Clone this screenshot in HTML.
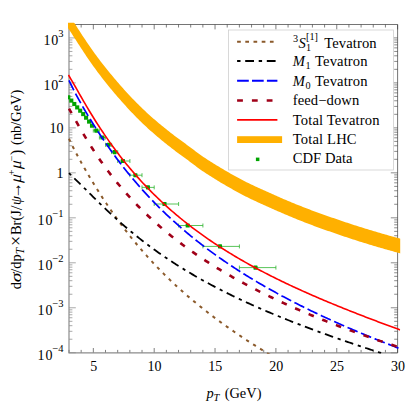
<!DOCTYPE html>
<html><head><meta charset="utf-8"><title>plot</title><style>html,body{margin:0;padding:0;background:#fff}body{width:409px;height:409px;overflow:hidden}</style></head><body>
<svg width="409" height="409" viewBox="0 0 409 409" style="display:block;font-family:'Liberation Serif',serif">
<rect width="409" height="409" fill="#fff"/>
<defs><clipPath id="c"><rect x="68.0" y="22.7" width="332.4" height="331.0"/></clipPath></defs>
<path d="M69.0,352.76 h6.8 M69.0,339.22 h3.4 M69.0,331.30 h3.4 M69.0,325.68 h3.4 M69.0,321.32 h3.4 M69.0,317.76 h3.4 M69.0,314.75 h3.4 M69.0,312.14 h3.4 M69.0,309.84 h3.4 M69.0,307.78 h6.8 M69.0,294.24 h3.4 M69.0,286.32 h3.4 M69.0,280.70 h3.4 M69.0,276.34 h3.4 M69.0,272.78 h3.4 M69.0,269.77 h3.4 M69.0,267.16 h3.4 M69.0,264.86 h3.4 M69.0,262.80 h6.8 M69.0,249.26 h3.4 M69.0,241.34 h3.4 M69.0,235.72 h3.4 M69.0,231.36 h3.4 M69.0,227.80 h3.4 M69.0,224.79 h3.4 M69.0,222.18 h3.4 M69.0,219.88 h3.4 M69.0,217.82 h6.8 M69.0,204.28 h3.4 M69.0,196.36 h3.4 M69.0,190.74 h3.4 M69.0,186.38 h3.4 M69.0,182.82 h3.4 M69.0,179.81 h3.4 M69.0,177.20 h3.4 M69.0,174.90 h3.4 M69.0,172.84 h6.8 M69.0,159.30 h3.4 M69.0,151.38 h3.4 M69.0,145.76 h3.4 M69.0,141.40 h3.4 M69.0,137.84 h3.4 M69.0,134.83 h3.4 M69.0,132.22 h3.4 M69.0,129.92 h3.4 M69.0,127.86 h6.8 M69.0,114.32 h3.4 M69.0,106.40 h3.4 M69.0,100.78 h3.4 M69.0,96.42 h3.4 M69.0,92.86 h3.4 M69.0,89.85 h3.4 M69.0,87.24 h3.4 M69.0,84.94 h3.4 M69.0,82.88 h6.8 M69.0,69.34 h3.4 M69.0,61.42 h3.4 M69.0,55.80 h3.4 M69.0,51.44 h3.4 M69.0,47.88 h3.4 M69.0,44.87 h3.4 M69.0,42.26 h3.4 M69.0,39.96 h3.4 M69.0,37.90 h6.8" stroke="#999" stroke-width="0.85" fill="none"/>
<path d="M397.6,352.76 h-6.8 M397.6,339.22 h-3.4 M397.6,331.30 h-3.4 M397.6,325.68 h-3.4 M397.6,321.32 h-3.4 M397.6,317.76 h-3.4 M397.6,314.75 h-3.4 M397.6,312.14 h-3.4 M397.6,309.84 h-3.4 M397.6,307.78 h-6.8 M397.6,294.24 h-3.4 M397.6,286.32 h-3.4 M397.6,280.70 h-3.4 M397.6,276.34 h-3.4 M397.6,272.78 h-3.4 M397.6,269.77 h-3.4 M397.6,267.16 h-3.4 M397.6,264.86 h-3.4 M397.6,262.80 h-6.8 M397.6,249.26 h-3.4 M397.6,241.34 h-3.4 M397.6,235.72 h-3.4 M397.6,231.36 h-3.4 M397.6,227.80 h-3.4 M397.6,224.79 h-3.4 M397.6,222.18 h-3.4 M397.6,219.88 h-3.4 M397.6,217.82 h-6.8 M397.6,204.28 h-3.4 M397.6,196.36 h-3.4 M397.6,190.74 h-3.4 M397.6,186.38 h-3.4 M397.6,182.82 h-3.4 M397.6,179.81 h-3.4 M397.6,177.20 h-3.4 M397.6,174.90 h-3.4 M397.6,172.84 h-6.8 M397.6,159.30 h-3.4 M397.6,151.38 h-3.4 M397.6,145.76 h-3.4 M397.6,141.40 h-3.4 M397.6,137.84 h-3.4 M397.6,134.83 h-3.4 M397.6,132.22 h-3.4 M397.6,129.92 h-3.4 M397.6,127.86 h-6.8 M397.6,114.32 h-3.4 M397.6,106.40 h-3.4 M397.6,100.78 h-3.4 M397.6,96.42 h-3.4 M397.6,92.86 h-3.4 M397.6,89.85 h-3.4 M397.6,87.24 h-3.4 M397.6,84.94 h-3.4 M397.6,82.88 h-6.8 M397.6,69.34 h-3.4 M397.6,61.42 h-3.4 M397.6,55.80 h-3.4 M397.6,51.44 h-3.4 M397.6,47.88 h-3.4 M397.6,44.87 h-3.4 M397.6,42.26 h-3.4 M397.6,39.96 h-3.4 M397.6,37.90 h-6.8" stroke="#777" stroke-width="0.85" fill="none"/>
<path d="M69.00,352.9 v-3.0 M81.17,352.9 v-3.0 M93.34,352.9 v-4.9 M105.51,352.9 v-3.0 M117.68,352.9 v-3.0 M129.85,352.9 v-3.0 M142.02,352.9 v-3.0 M154.19,352.9 v-4.9 M166.36,352.9 v-3.0 M178.53,352.9 v-3.0 M190.70,352.9 v-3.0 M202.87,352.9 v-3.0 M215.04,352.9 v-4.9 M227.21,352.9 v-3.0 M239.39,352.9 v-3.0 M251.56,352.9 v-3.0 M263.73,352.9 v-3.0 M275.90,352.9 v-4.9 M288.07,352.9 v-3.0 M300.24,352.9 v-3.0 M312.41,352.9 v-3.0 M324.58,352.9 v-3.0 M336.75,352.9 v-4.9 M348.92,352.9 v-3.0 M361.09,352.9 v-3.0 M373.26,352.9 v-3.0 M385.43,352.9 v-3.0 M397.60,352.9 v-4.9 M69.00,24.5 v3.0 M81.17,24.5 v3.0 M93.34,24.5 v4.9 M105.51,24.5 v3.0 M117.68,24.5 v3.0 M129.85,24.5 v3.0 M142.02,24.5 v3.0 M154.19,24.5 v4.9 M166.36,24.5 v3.0 M178.53,24.5 v3.0 M190.70,24.5 v3.0 M202.87,24.5 v3.0 M215.04,24.5 v4.9 M227.21,24.5 v3.0 M239.39,24.5 v3.0 M251.56,24.5 v3.0 M263.73,24.5 v3.0 M275.90,24.5 v4.9 M288.07,24.5 v3.0 M300.24,24.5 v3.0 M312.41,24.5 v3.0 M324.58,24.5 v3.0 M336.75,24.5 v4.9 M348.92,24.5 v3.0 M361.09,24.5 v3.0 M373.26,24.5 v3.0 M385.43,24.5 v3.0 M397.60,24.5 v4.9" stroke="#3a3a3a" stroke-width="0.65" fill="none"/>
<path d="M69.0,24.5 V352.9 H397.6" stroke="#8c8c8c" stroke-width="1.2" fill="none"/>
<path d="M69.0,24.5 H397.6 V352.9" stroke="#3a3a3a" stroke-width="0.7" fill="none"/>
<g clip-path="url(#c)" fill="none">
<polygon points="67.00,11.96 68.40,13.95 69.79,16.01 71.19,18.12 72.58,20.27 73.98,22.43 75.37,24.61 76.77,26.79 78.16,28.96 79.56,31.12 80.95,33.27 82.35,35.41 83.74,37.52 85.14,39.62 86.54,41.69 87.93,43.74 89.33,45.77 90.72,47.78 92.12,49.76 93.51,51.72 94.91,53.65 96.30,55.56 97.70,57.45 99.09,59.32 100.49,61.16 101.88,62.98 103.28,64.78 104.68,66.55 106.07,68.31 107.47,70.04 108.86,71.75 110.26,73.44 111.65,75.12 113.05,76.79 114.44,78.44 115.84,80.08 117.23,81.70 118.63,83.32 120.03,84.91 121.42,86.50 122.82,88.07 124.21,89.63 125.61,91.17 127.00,92.70 128.40,94.21 129.79,95.71 131.19,97.19 132.58,98.66 133.98,100.11 135.37,101.55 136.77,102.97 138.17,104.37 139.56,105.75 140.96,107.12 142.35,108.47 143.75,109.81 145.14,111.12 146.54,112.42 147.93,113.70 149.33,114.96 150.72,116.20 152.12,117.42 153.51,118.64 154.91,119.85 156.31,121.04 157.70,122.22 159.10,123.40 160.49,124.56 161.89,125.71 163.28,126.85 164.68,127.98 166.07,129.11 167.47,130.22 168.86,131.32 170.26,132.42 171.65,133.50 173.05,134.58 174.45,135.64 175.84,136.70 177.24,137.75 178.63,138.79 180.03,139.82 181.42,140.85 182.82,141.86 184.21,142.87 185.61,143.87 187.00,144.89 188.40,145.92 189.79,146.96 191.19,148.00 192.59,149.05 193.98,150.10 195.38,151.15 196.77,152.19 198.17,153.22 199.56,154.24 200.96,155.23 202.35,156.21 203.75,157.16 205.14,158.08 206.54,158.99 207.94,159.89 209.33,160.78 210.73,161.67 212.12,162.55 213.52,163.42 214.91,164.28 216.31,165.14 217.70,166.00 219.10,166.84 220.49,167.68 221.89,168.51 223.28,169.34 224.68,170.16 226.08,170.97 227.47,171.78 228.87,172.58 230.26,173.38 231.66,174.17 233.05,174.95 234.45,175.73 235.84,176.50 237.24,177.26 238.63,178.02 240.03,178.78 241.42,179.52 242.82,180.26 244.22,180.98 245.61,181.69 247.01,182.38 248.40,183.07 249.80,183.75 251.19,184.43 252.59,185.09 253.98,185.75 255.38,186.40 256.77,187.05 258.17,187.69 259.56,188.33 260.96,188.96 262.36,189.59 263.75,190.22 265.15,190.85 266.54,191.47 267.94,192.10 269.33,192.73 270.73,193.36 272.12,193.98 273.52,194.61 274.91,195.23 276.31,195.84 277.71,196.46 279.10,197.07 280.50,197.67 281.89,198.28 283.29,198.88 284.68,199.47 286.08,200.07 287.47,200.66 288.87,201.24 290.26,201.83 291.66,202.41 293.05,202.98 294.45,203.56 295.85,204.13 297.24,204.69 298.64,205.25 300.03,205.81 301.43,206.37 302.82,206.92 304.22,207.46 305.61,208.01 307.01,208.55 308.40,209.08 309.80,209.62 311.19,210.14 312.59,210.67 313.99,211.19 315.38,211.70 316.78,212.21 318.17,212.72 319.57,213.22 320.96,213.73 322.36,214.22 323.75,214.72 325.15,215.21 326.54,215.70 327.94,216.19 329.33,216.67 330.73,217.16 332.13,217.64 333.52,218.12 334.92,218.60 336.31,219.08 337.71,219.56 339.10,220.04 340.50,220.51 341.89,220.99 343.29,221.46 344.68,221.93 346.08,222.40 347.47,222.86 348.87,223.33 350.27,223.78 351.66,224.24 353.06,224.70 354.45,225.15 355.85,225.60 357.24,226.04 358.64,226.49 360.03,226.93 361.43,227.37 362.82,227.80 364.22,228.24 365.62,228.67 367.01,229.10 368.41,229.52 369.80,229.95 371.20,230.37 372.59,230.79 373.99,231.20 375.38,231.62 376.78,232.03 378.17,232.44 379.57,232.85 380.96,233.25 382.36,233.66 383.76,234.06 385.15,234.46 386.55,234.85 387.94,235.25 389.34,235.64 390.73,236.03 392.13,236.42 393.52,236.80 394.92,237.18 396.31,237.56 397.71,237.94 399.10,238.32 400.50,238.69 400.50,253.39 399.10,253.02 397.71,252.64 396.31,252.26 394.92,251.88 393.52,251.50 392.13,251.12 390.73,250.73 389.34,250.34 387.94,249.95 386.55,249.55 385.15,249.16 383.76,248.76 382.36,248.36 380.96,247.95 379.57,247.55 378.17,247.14 376.78,246.73 375.38,246.32 373.99,245.90 372.59,245.49 371.20,245.07 369.80,244.65 368.41,244.22 367.01,243.80 365.62,243.37 364.22,242.94 362.82,242.50 361.43,242.07 360.03,241.63 358.64,241.19 357.24,240.74 355.85,240.30 354.45,239.85 353.06,239.40 351.66,238.94 350.27,238.48 348.87,238.03 347.47,237.56 346.08,237.10 344.68,236.63 343.29,236.16 341.89,235.69 340.50,235.21 339.10,234.74 337.71,234.26 336.31,233.78 334.92,233.30 333.52,232.82 332.13,232.34 330.73,231.86 329.33,231.37 327.94,230.89 326.54,230.40 325.15,229.91 323.75,229.42 322.36,228.92 320.96,228.43 319.57,227.92 318.17,227.42 316.78,226.91 315.38,226.40 313.99,225.89 312.59,225.37 311.19,224.84 309.80,224.32 308.40,223.78 307.01,223.25 305.61,222.71 304.22,222.16 302.82,221.62 301.43,221.07 300.03,220.51 298.64,219.95 297.24,219.39 295.85,218.83 294.45,218.26 293.05,217.68 291.66,217.11 290.26,216.53 288.87,215.94 287.47,215.36 286.08,214.77 284.68,214.17 283.29,213.58 281.89,212.98 280.50,212.37 279.10,211.77 277.71,211.16 276.31,210.54 274.91,209.93 273.52,209.31 272.12,208.68 270.73,208.06 269.33,207.43 267.94,206.80 266.54,206.17 265.15,205.55 263.75,204.92 262.36,204.29 260.96,203.66 259.56,203.03 258.17,202.39 256.77,201.75 255.38,201.10 253.98,200.45 252.59,199.79 251.19,199.13 249.80,198.45 248.40,197.77 247.01,197.08 245.61,196.39 244.22,195.68 242.82,194.96 241.42,194.22 240.03,193.48 238.63,192.72 237.24,191.96 235.84,191.20 234.45,190.43 233.05,189.65 231.66,188.87 230.26,188.08 228.87,187.28 227.47,186.48 226.08,185.67 224.68,184.86 223.28,184.04 221.89,183.21 220.49,182.38 219.10,181.54 217.70,180.70 216.31,179.84 214.91,178.98 213.52,178.12 212.12,177.25 210.73,176.37 209.33,175.48 207.94,174.59 206.54,173.69 205.14,172.78 203.75,171.86 202.35,170.91 200.96,169.93 199.56,168.94 198.17,167.92 196.77,166.89 195.38,165.85 193.98,164.80 192.59,163.75 191.19,162.70 189.79,161.66 188.40,160.62 187.00,159.59 185.61,158.57 184.21,157.57 182.82,156.56 181.42,155.55 180.03,154.52 178.63,153.49 177.24,152.45 175.84,151.40 174.45,150.34 173.05,149.28 171.65,148.20 170.26,147.12 168.86,146.02 167.47,144.92 166.07,143.81 164.68,142.68 163.28,141.55 161.89,140.41 160.49,139.26 159.10,138.10 157.70,136.92 156.31,135.74 154.91,134.55 153.51,133.34 152.12,132.12 150.72,130.90 149.33,129.66 147.93,128.40 146.54,127.12 145.14,125.82 143.75,124.51 142.35,123.17 140.96,121.82 139.56,120.45 138.17,119.07 136.77,117.67 135.37,116.25 133.98,114.81 132.58,113.36 131.19,111.89 129.79,110.41 128.40,108.91 127.00,107.40 125.61,105.87 124.21,104.33 122.82,102.77 121.42,101.20 120.03,99.61 118.63,98.02 117.23,96.40 115.84,94.78 114.44,93.14 113.05,91.49 111.65,89.82 110.26,88.14 108.86,86.45 107.47,84.74 106.07,83.01 104.68,81.25 103.28,79.48 101.88,77.68 100.49,75.86 99.09,74.02 97.70,72.15 96.30,70.26 94.91,68.35 93.51,66.42 92.12,64.46 90.72,62.48 89.33,60.47 87.93,58.44 86.54,56.39 85.14,54.32 83.74,52.22 82.35,50.11 80.95,47.97 79.56,45.82 78.16,43.66 76.77,41.49 75.37,39.31 73.98,37.13 72.58,34.97 71.19,32.82 69.79,30.71 68.40,28.65 67.00,26.66" fill="#ffb000" stroke="none"/>
<rect x="66.25" y="95.25" width="4.1" height="4.1" fill="#00a400"/>
<rect x="69.25" y="98.55" width="4.1" height="4.1" fill="#00a400"/>
<rect x="72.25" y="101.95" width="4.1" height="4.1" fill="#00a400"/>
<rect x="75.15" y="105.35" width="4.1" height="4.1" fill="#00a400"/>
<rect x="78.15" y="108.65" width="4.1" height="4.1" fill="#00a400"/>
<rect x="81.15" y="112.05" width="4.1" height="4.1" fill="#00a400"/>
<rect x="84.05" y="115.65" width="4.1" height="4.1" fill="#00a400"/>
<rect x="87.05" y="119.55" width="4.1" height="4.1" fill="#00a400"/>
<rect x="89.95" y="123.65" width="4.1" height="4.1" fill="#00a400"/>
<path d="M93.3,130.6 H99.3 M93.3,128.6 v4 M99.3,128.6 v4" stroke="#2fb52f" stroke-width="0.8"/>
<rect x="94.25" y="128.55" width="4.1" height="4.1" rx="0.6" fill="#00a400"/>
<path d="M99.4,137.5 H105.4 M99.4,135.5 v4 M105.4,135.5 v4" stroke="#2fb52f" stroke-width="0.8"/>
<rect x="100.35" y="135.45" width="4.1" height="4.1" rx="0.6" fill="#00a400"/>
<path d="M105.5,144.8 H111.6 M105.5,142.8 v4 M111.6,142.8 v4" stroke="#2fb52f" stroke-width="0.8"/>
<rect x="106.55" y="142.75" width="4.1" height="4.1" rx="0.6" fill="#00a400"/>
<path d="M111.6,152.1 H117.7 M111.6,150.1 v4 M117.7,150.1 v4" stroke="#2fb52f" stroke-width="0.8"/>
<rect x="112.55" y="150.05" width="4.1" height="4.1" rx="0.6" fill="#00a400"/>
<path d="M117.7,161 H129.9 M117.7,159 v4 M129.9,159 v4" stroke="#2fb52f" stroke-width="0.8"/>
<rect x="120.85" y="158.95" width="4.1" height="4.1" rx="0.6" fill="#00a400"/>
<path d="M129.9,175.2 H142.0 M129.9,173.2 v4 M142.0,173.2 v4" stroke="#2fb52f" stroke-width="0.8"/>
<rect x="133.35" y="173.15" width="4.1" height="4.1" rx="0.6" fill="#00a400"/>
<path d="M142,187.4 H154.2 M142,185.4 v4 M154.2,185.4 v4" stroke="#2fb52f" stroke-width="0.8"/>
<rect x="145.85" y="185.35" width="4.1" height="4.1" rx="0.6" fill="#00a400"/>
<path d="M154.2,204 H178.6 M154.2,202 v4 M178.6,202 v4" stroke="#2fb52f" stroke-width="0.8"/>
<rect x="162.45" y="201.95" width="4.1" height="4.1" rx="0.6" fill="#00a400"/>
<path d="M178.6,225.5 H202.9 M178.6,223.5 v4 M202.9,223.5 v4" stroke="#2fb52f" stroke-width="0.8"/>
<rect x="185.65" y="223.45" width="4.1" height="4.1" rx="0.6" fill="#00a400"/>
<path d="M202.9,246.4 H239.4 M202.9,244.4 v4 M239.4,244.4 v4" stroke="#2fb52f" stroke-width="0.8"/>
<rect x="217.95" y="244.35" width="4.1" height="4.1" rx="0.6" fill="#00a400"/>
<path d="M239.4,267.6 H275.9 M239.4,265.6 v4 M275.9,265.6 v4" stroke="#2fb52f" stroke-width="0.8"/>
<rect x="253.45" y="265.55" width="4.1" height="4.1" rx="0.6" fill="#00a400"/>
<path d="M69.00,138.73 L69.84,140.55 L70.68,142.32 L71.52,144.05 L72.36,145.76 L73.21,147.43 L74.05,149.09 L74.89,150.71 L75.73,152.32 L76.57,153.91 L77.41,155.49 L78.25,157.05 L79.09,158.59 L79.93,160.12 L80.77,161.64 L81.62,163.15 L82.46,164.65 L83.30,166.13 L84.14,167.61 L84.98,169.08 L85.82,170.53 L86.66,171.98 L87.50,173.42 L88.34,174.85 L89.18,176.28 L90.03,177.69 L90.87,179.10 L91.71,180.49 L92.55,181.88 L93.39,183.26 L94.23,184.64 L95.07,186.00 L95.91,187.36 L96.75,188.71 L97.59,190.05 L98.44,191.38 L99.28,192.71 L100.12,194.02 L100.96,195.33 L101.80,196.64 L102.64,197.93 L103.48,199.22 L104.32,200.50 L105.16,201.77 L106.00,203.03 L106.85,204.29 L107.69,205.54 L108.53,206.78 L109.37,208.01 L110.21,209.24 L111.05,210.46 L111.89,211.67 L112.73,212.87 L113.57,214.07 L114.41,215.26 L115.26,216.44 L116.10,217.61 L116.94,218.78 L117.78,219.94 L118.62,221.09 L119.46,222.24 L120.30,223.38 L121.14,224.51 L121.98,225.63 L122.82,226.75 L123.67,227.86 L124.51,228.97 L125.35,230.06 L126.19,231.16 L127.03,232.24 L127.87,233.32 L128.71,234.39 L129.55,235.45 L130.39,236.51 L131.23,237.56 L132.08,238.61 L132.92,239.65 L133.76,240.68 L134.60,241.71 L135.44,242.73 L136.28,243.74 L137.12,244.75 L137.96,245.75 L138.80,246.75 L139.64,247.74 L140.49,248.72 L141.33,249.70 L142.17,250.67 L143.01,251.64 L143.85,252.60 L144.69,253.56 L145.53,254.51 L146.37,255.45 L147.21,256.39 L148.05,257.32 L148.90,258.25 L149.74,259.18 L150.58,260.09 L151.42,261.01 L152.26,261.91 L153.10,262.82 L153.94,263.71 L154.78,264.61 L155.62,265.49 L156.46,266.37 L157.31,267.25 L158.15,268.12 L158.99,268.99 L159.83,269.86 L160.67,270.71 L161.51,271.57 L162.35,272.42 L163.19,273.26 L164.03,274.10 L164.87,274.94 L165.72,275.77 L166.56,276.59 L167.40,277.41 L168.24,278.23 L169.08,279.05 L169.92,279.85 L170.76,280.66 L171.60,281.46 L172.44,282.26 L173.28,283.05 L174.13,283.84 L174.97,284.62 L175.81,285.40 L176.65,286.18 L177.49,286.95 L178.33,287.72 L179.17,288.49 L180.01,289.25 L180.85,290.00 L181.69,290.76 L182.54,291.51 L183.38,292.25 L184.22,293.00 L185.06,293.74 L185.90,294.47 L186.74,295.20 L187.58,295.93 L188.42,296.66 L189.26,297.38 L190.10,298.10 L190.95,298.81 L191.79,299.53 L192.63,300.23 L193.47,300.94 L194.31,301.64 L195.15,302.34 L195.99,303.04 L196.83,303.73 L197.67,304.42 L198.51,305.11 L199.36,305.79 L200.20,306.47 L201.04,307.15 L201.88,307.82 L202.72,308.49 L203.56,309.16 L204.40,309.83 L205.24,310.49 L206.08,311.15 L206.92,311.81 L207.77,312.46 L208.61,313.11 L209.45,313.76 L210.29,314.41 L211.13,315.05 L211.97,315.69 L212.81,316.33 L213.65,316.97 L214.49,317.60 L215.33,318.23 L216.18,318.86 L217.02,319.49 L217.86,320.11 L218.70,320.73 L219.54,321.35 L220.38,321.97 L221.22,322.58 L222.06,323.19 L222.90,323.80 L223.74,324.41 L224.59,325.01 L225.43,325.62 L226.27,326.22 L227.11,326.81 L227.95,327.41 L228.79,328.00 L229.63,328.60 L230.47,329.18 L231.31,329.77 L232.15,330.36 L233.00,330.94 L233.84,331.52 L234.68,332.10 L235.52,332.68 L236.36,333.25 L237.20,333.82 L238.04,334.40 L238.88,334.96 L239.72,335.53 L240.56,336.10 L241.41,336.66 L242.25,337.22 L243.09,337.78 L243.93,338.34 L244.77,338.89 L245.61,339.45 L246.45,340.00 L247.29,340.55 L248.13,341.10 L248.97,341.65 L249.82,342.19 L250.66,342.74 L251.50,343.28 L252.34,343.82 L253.18,344.36 L254.02,344.89 L254.86,345.43 L255.70,345.96 L256.54,346.50 L257.38,347.03 L258.23,347.56 L259.07,348.08 L259.91,348.61 L260.75,349.13 L261.59,349.66 L262.43,350.18 L263.27,350.70 L264.11,351.22 L264.95,351.73 L265.79,352.25 L266.64,352.76 L267.48,353.28 L268.32,353.79 L269.16,354.30 L270.00,354.81" stroke="#8b5a2b" stroke-width="2" stroke-dasharray="3.2 5.03"/>
<path d="M69.00,173.19 L70.32,174.47 L71.64,175.74 L72.97,177.01 L74.29,178.29 L75.61,179.57 L76.93,180.86 L78.26,182.15 L79.58,183.44 L80.90,184.74 L82.22,186.05 L83.54,187.36 L84.87,188.67 L86.19,189.98 L87.51,191.29 L88.83,192.61 L90.15,193.92 L91.48,195.23 L92.80,196.53 L94.12,197.84 L95.44,199.14 L96.77,200.44 L98.09,201.73 L99.41,203.02 L100.73,204.30 L102.05,205.57 L103.38,206.84 L104.70,208.11 L106.02,209.36 L107.34,210.61 L108.67,211.85 L109.99,213.09 L111.31,214.31 L112.63,215.53 L113.95,216.74 L115.28,217.94 L116.60,219.13 L117.92,220.32 L119.24,221.49 L120.56,222.66 L121.89,223.82 L123.21,224.97 L124.53,226.11 L125.85,227.25 L127.18,228.37 L128.50,229.49 L129.82,230.60 L131.14,231.70 L132.46,232.79 L133.79,233.87 L135.11,234.94 L136.43,236.01 L137.75,237.07 L139.08,238.11 L140.40,239.16 L141.72,240.19 L143.04,241.21 L144.36,242.23 L145.69,243.24 L147.01,244.24 L148.33,245.23 L149.65,246.22 L150.97,247.19 L152.30,248.16 L153.62,249.13 L154.94,250.08 L156.26,251.03 L157.59,251.97 L158.91,252.90 L160.23,253.83 L161.55,254.75 L162.87,255.66 L164.20,256.57 L165.52,257.46 L166.84,258.36 L168.16,259.24 L169.49,260.12 L170.81,260.99 L172.13,261.86 L173.45,262.72 L174.77,263.57 L176.10,264.42 L177.42,265.26 L178.74,266.09 L180.06,266.92 L181.38,267.75 L182.71,268.56 L184.03,269.37 L185.35,270.18 L186.67,270.98 L188.00,271.77 L189.32,272.56 L190.64,273.35 L191.96,274.13 L193.28,274.90 L194.61,275.67 L195.93,276.43 L197.25,277.19 L198.57,277.94 L199.90,278.69 L201.22,279.43 L202.54,280.17 L203.86,280.90 L205.18,281.63 L206.51,282.36 L207.83,283.08 L209.15,283.79 L210.47,284.50 L211.79,285.21 L213.12,285.91 L214.44,286.61 L215.76,287.30 L217.08,287.99 L218.41,288.68 L219.73,289.36 L221.05,290.04 L222.37,290.71 L223.69,291.38 L225.02,292.05 L226.34,292.71 L227.66,293.36 L228.98,294.02 L230.31,294.67 L231.63,295.32 L232.95,295.96 L234.27,296.60 L235.59,297.24 L236.92,297.87 L238.24,298.50 L239.56,299.12 L240.88,299.75 L242.21,300.37 L243.53,300.98 L244.85,301.59 L246.17,302.20 L247.49,302.81 L248.82,303.41 L250.14,304.01 L251.46,304.61 L252.78,305.21 L254.10,305.80 L255.43,306.39 L256.75,306.97 L258.07,307.55 L259.39,308.13 L260.72,308.71 L262.04,309.29 L263.36,309.86 L264.68,310.43 L266.00,310.99 L267.33,311.56 L268.65,312.12 L269.97,312.68 L271.29,313.23 L272.62,313.79 L273.94,314.34 L275.26,314.89 L276.58,315.44 L277.90,315.98 L279.23,316.52 L280.55,317.06 L281.87,317.60 L283.19,318.13 L284.51,318.67 L285.84,319.20 L287.16,319.73 L288.48,320.25 L289.80,320.78 L291.13,321.30 L292.45,321.82 L293.77,322.34 L295.09,322.85 L296.41,323.37 L297.74,323.88 L299.06,324.39 L300.38,324.90 L301.70,325.40 L303.03,325.91 L304.35,326.41 L305.67,326.91 L306.99,327.41 L308.31,327.91 L309.64,328.40 L310.96,328.89 L312.28,329.39 L313.60,329.87 L314.92,330.36 L316.25,330.85 L317.57,331.33 L318.89,331.82 L320.21,332.30 L321.54,332.78 L322.86,333.26 L324.18,333.73 L325.50,334.21 L326.82,334.68 L328.15,335.16 L329.47,335.63 L330.79,336.10 L332.11,336.56 L333.44,337.03 L334.76,337.49 L336.08,337.96 L337.40,338.42 L338.72,338.88 L340.05,339.34 L341.37,339.80 L342.69,340.25 L344.01,340.71 L345.33,341.16 L346.66,341.62 L347.98,342.07 L349.30,342.52 L350.62,342.97 L351.95,343.41 L353.27,343.86 L354.59,344.31 L355.91,344.75 L357.23,345.19 L358.56,345.63 L359.88,346.08 L361.20,346.51 L362.52,346.95 L363.85,347.39 L365.17,347.83 L366.49,348.26 L367.81,348.69 L369.13,349.13 L370.46,349.56 L371.78,349.99 L373.10,350.42 L374.42,350.85 L375.74,351.28 L377.07,351.70 L378.39,352.13 L379.71,352.55 L381.03,352.98 L382.36,353.40 L383.68,353.82 L385.00,354.24" stroke="#000" stroke-width="1.8" stroke-dasharray="3.2 4.6 8.7 4.8" stroke-dashoffset="0.4"/>
<path d="M69.00,80.41 L70.38,83.35 L71.77,86.19 L73.15,88.96 L74.54,91.65 L75.92,94.29 L77.31,96.88 L78.69,99.42 L80.08,101.92 L81.46,104.39 L82.85,106.82 L84.23,109.21 L85.62,111.58 L87.00,113.92 L88.39,116.24 L89.77,118.52 L91.16,120.78 L92.54,123.02 L93.93,125.23 L95.31,127.42 L96.70,129.58 L98.08,131.72 L99.47,133.84 L100.85,135.94 L102.24,138.01 L103.62,140.07 L105.01,142.10 L106.39,144.11 L107.78,146.10 L109.16,148.07 L110.55,150.02 L111.93,151.95 L113.32,153.86 L114.70,155.75 L116.09,157.62 L117.47,159.47 L118.86,161.30 L120.24,163.12 L121.63,164.91 L123.01,166.69 L124.40,168.45 L125.78,170.19 L127.17,171.92 L128.55,173.62 L129.94,175.31 L131.32,176.99 L132.71,178.65 L134.09,180.29 L135.48,181.91 L136.86,183.52 L138.25,185.12 L139.63,186.69 L141.02,188.26 L142.40,189.81 L143.79,191.34 L145.17,192.86 L146.56,194.36 L147.94,195.85 L149.33,197.33 L150.71,198.79 L152.10,200.24 L153.48,201.68 L154.87,203.10 L156.25,204.51 L157.64,205.91 L159.02,207.29 L160.41,208.67 L161.79,210.03 L163.18,211.37 L164.56,212.71 L165.95,214.03 L167.33,215.35 L168.72,216.65 L170.10,217.94 L171.49,219.22 L172.87,220.49 L174.26,221.74 L175.64,222.99 L177.03,224.23 L178.41,225.45 L179.79,226.67 L181.18,227.87 L182.56,229.07 L183.95,230.26 L185.33,231.43 L186.72,232.60 L188.10,233.76 L189.49,234.91 L190.87,236.05 L192.26,237.18 L193.64,238.30 L195.03,239.41 L196.41,240.52 L197.80,241.61 L199.18,242.70 L200.57,243.78 L201.95,244.85 L203.34,245.91 L204.72,246.97 L206.11,248.02 L207.49,249.06 L208.88,250.09 L210.26,251.11 L211.65,252.13 L213.03,253.14 L214.42,254.14 L215.80,255.14 L217.19,256.13 L218.57,257.11 L219.96,258.08 L221.34,259.05 L222.73,260.01 L224.11,260.97 L225.50,261.92 L226.88,262.86 L228.27,263.80 L229.65,264.72 L231.04,265.65 L232.42,266.57 L233.81,267.48 L235.19,268.38 L236.58,269.28 L237.96,270.18 L239.35,271.06 L240.73,271.95 L242.12,272.82 L243.50,273.70 L244.89,274.56 L246.27,275.42 L247.66,276.28 L249.04,277.13 L250.43,277.97 L251.81,278.81 L253.20,279.65 L254.58,280.48 L255.97,281.30 L257.35,282.12 L258.74,282.94 L260.12,283.75 L261.51,284.56 L262.89,285.36 L264.28,286.15 L265.66,286.95 L267.05,287.74 L268.43,288.52 L269.82,289.30 L271.20,290.07 L272.59,290.84 L273.97,291.61 L275.36,292.37 L276.74,293.13 L278.13,293.89 L279.51,294.64 L280.90,295.38 L282.28,296.13 L283.67,296.86 L285.05,297.60 L286.44,298.33 L287.82,299.06 L289.21,299.78 L290.59,300.50 L291.97,301.22 L293.36,301.93 L294.74,302.64 L296.13,303.35 L297.51,304.05 L298.90,304.75 L300.28,305.44 L301.67,306.13 L303.05,306.82 L304.44,307.51 L305.82,308.19 L307.21,308.87 L308.59,309.55 L309.98,310.22 L311.36,310.89 L312.75,311.56 L314.13,312.22 L315.52,312.88 L316.90,313.54 L318.29,314.20 L319.67,314.85 L321.06,315.50 L322.44,316.15 L323.83,316.79 L325.21,317.43 L326.60,318.07 L327.98,318.71 L329.37,319.34 L330.75,319.97 L332.14,320.60 L333.52,321.22 L334.91,321.85 L336.29,322.47 L337.68,323.08 L339.06,323.70 L340.45,324.31 L341.83,324.92 L343.22,325.53 L344.60,326.14 L345.99,326.74 L347.37,327.34 L348.76,327.94 L350.14,328.54 L351.53,329.13 L352.91,329.72 L354.30,330.31 L355.68,330.90 L357.07,331.49 L358.45,332.07 L359.84,332.65 L361.22,333.23 L362.61,333.81 L363.99,334.38 L365.38,334.96 L366.76,335.53 L368.15,336.10 L369.53,336.66 L370.92,337.23 L372.30,337.79 L373.69,338.35 L375.07,338.91 L376.46,339.47 L377.84,340.03 L379.23,340.58 L380.61,341.13 L382.00,341.68 L383.38,342.23 L384.77,342.78 L386.15,343.33 L387.54,343.87 L388.92,344.41 L390.31,344.95 L391.69,345.49 L393.08,346.03 L394.46,346.56 L395.85,347.10 L397.23,347.63 L398.62,348.16 L400.00,348.69" stroke="#0000ff" stroke-width="1.7" stroke-dasharray="10.96 3.7"/>
<path d="M69.00,108.58 L70.38,111.06 L71.77,113.55 L73.15,116.04 L74.54,118.52 L75.92,120.99 L77.31,123.44 L78.69,125.88 L80.08,128.29 L81.46,130.67 L82.85,133.04 L84.23,135.37 L85.62,137.68 L87.00,139.96 L88.39,142.21 L89.77,144.43 L91.16,146.62 L92.54,148.78 L93.93,150.91 L95.31,153.02 L96.70,155.09 L98.08,157.14 L99.47,159.16 L100.85,161.15 L102.24,163.12 L103.62,165.06 L105.01,166.97 L106.39,168.86 L107.78,170.72 L109.16,172.56 L110.55,174.37 L111.93,176.16 L113.32,177.92 L114.70,179.67 L116.09,181.39 L117.47,183.09 L118.86,184.76 L120.24,186.42 L121.63,188.06 L123.01,189.67 L124.40,191.27 L125.78,192.84 L127.17,194.40 L128.55,195.94 L129.94,197.46 L131.32,198.96 L132.71,200.45 L134.09,201.92 L135.48,203.37 L136.86,204.80 L138.25,206.22 L139.63,207.62 L141.02,209.01 L142.40,210.38 L143.79,211.74 L145.17,213.08 L146.56,214.41 L147.94,215.72 L149.33,217.02 L150.71,218.31 L152.10,219.58 L153.48,220.84 L154.87,222.09 L156.25,223.33 L157.64,224.55 L159.02,225.76 L160.41,226.96 L161.79,228.15 L163.18,229.32 L164.56,230.49 L165.95,231.64 L167.33,232.78 L168.72,233.92 L170.10,235.04 L171.49,236.15 L172.87,237.25 L174.26,238.34 L175.64,239.42 L177.03,240.49 L178.41,241.56 L179.79,242.61 L181.18,243.65 L182.56,244.69 L183.95,245.72 L185.33,246.73 L186.72,247.74 L188.10,248.74 L189.49,249.74 L190.87,250.72 L192.26,251.70 L193.64,252.67 L195.03,253.63 L196.41,254.58 L197.80,255.53 L199.18,256.46 L200.57,257.40 L201.95,258.32 L203.34,259.24 L204.72,260.15 L206.11,261.05 L207.49,261.94 L208.88,262.83 L210.26,263.72 L211.65,264.59 L213.03,265.46 L214.42,266.33 L215.80,267.19 L217.19,268.04 L218.57,268.88 L219.96,269.72 L221.34,270.56 L222.73,271.38 L224.11,272.21 L225.50,273.02 L226.88,273.83 L228.27,274.64 L229.65,275.44 L231.04,276.23 L232.42,277.02 L233.81,277.81 L235.19,278.59 L236.58,279.36 L237.96,280.13 L239.35,280.90 L240.73,281.66 L242.12,282.41 L243.50,283.16 L244.89,283.91 L246.27,284.65 L247.66,285.39 L249.04,286.12 L250.43,286.85 L251.81,287.57 L253.20,288.29 L254.58,289.00 L255.97,289.71 L257.35,290.42 L258.74,291.12 L260.12,291.82 L261.51,292.51 L262.89,293.20 L264.28,293.89 L265.66,294.57 L267.05,295.25 L268.43,295.93 L269.82,296.60 L271.20,297.27 L272.59,297.93 L273.97,298.59 L275.36,299.25 L276.74,299.90 L278.13,300.55 L279.51,301.19 L280.90,301.84 L282.28,302.48 L283.67,303.11 L285.05,303.75 L286.44,304.38 L287.82,305.00 L289.21,305.63 L290.59,306.25 L291.97,306.86 L293.36,307.48 L294.74,308.09 L296.13,308.69 L297.51,309.30 L298.90,309.90 L300.28,310.50 L301.67,311.10 L303.05,311.69 L304.44,312.28 L305.82,312.87 L307.21,313.45 L308.59,314.03 L309.98,314.61 L311.36,315.19 L312.75,315.76 L314.13,316.34 L315.52,316.90 L316.90,317.47 L318.29,318.03 L319.67,318.60 L321.06,319.15 L322.44,319.71 L323.83,320.26 L325.21,320.82 L326.60,321.36 L327.98,321.91 L329.37,322.46 L330.75,323.00 L332.14,323.54 L333.52,324.07 L334.91,324.61 L336.29,325.14 L337.68,325.67 L339.06,326.20 L340.45,326.73 L341.83,327.25 L343.22,327.77 L344.60,328.29 L345.99,328.81 L347.37,329.33 L348.76,329.84 L350.14,330.35 L351.53,330.86 L352.91,331.37 L354.30,331.87 L355.68,332.38 L357.07,332.88 L358.45,333.38 L359.84,333.87 L361.22,334.37 L362.61,334.86 L363.99,335.36 L365.38,335.85 L366.76,336.34 L368.15,336.82 L369.53,337.31 L370.92,337.79 L372.30,338.27 L373.69,338.75 L375.07,339.23 L376.46,339.70 L377.84,340.18 L379.23,340.65 L380.61,341.12 L382.00,341.59 L383.38,342.06 L384.77,342.52 L386.15,342.99 L387.54,343.45 L388.92,343.91 L390.31,344.37 L391.69,344.83 L393.08,345.29 L394.46,345.74 L395.85,346.19 L397.23,346.65 L398.62,347.10 L400.00,347.54" stroke="#a00018" stroke-width="2.6" stroke-dasharray="5.6 9.1" stroke-dashoffset="0.3"/>
<path d="M68.40,75.00 L69.79,77.24 L71.17,79.56 L72.56,81.94 L73.95,84.34 L75.34,86.77 L76.72,89.21 L78.11,91.65 L79.50,94.09 L80.89,96.52 L82.27,98.93 L83.66,101.33 L85.05,103.71 L86.44,106.07 L87.82,108.41 L89.21,110.73 L90.60,113.02 L91.99,115.29 L93.37,117.54 L94.76,119.76 L96.15,121.96 L97.54,124.13 L98.92,126.28 L100.31,128.40 L101.70,130.50 L103.09,132.57 L104.47,134.62 L105.86,136.65 L107.25,138.65 L108.64,140.63 L110.02,142.59 L111.41,144.52 L112.80,146.43 L114.19,148.32 L115.57,150.19 L116.96,152.04 L118.35,153.86 L119.74,155.67 L121.12,157.45 L122.51,159.21 L123.90,160.96 L125.29,162.68 L126.67,164.39 L128.06,166.07 L129.45,167.74 L130.84,169.39 L132.22,171.02 L133.61,172.63 L135.00,174.22 L136.38,175.80 L137.77,177.36 L139.16,178.90 L140.55,180.43 L141.93,181.94 L143.32,183.43 L144.71,184.91 L146.10,186.37 L147.48,187.82 L148.87,189.25 L150.26,190.67 L151.65,192.07 L153.03,193.46 L154.42,194.83 L155.81,196.19 L157.20,197.54 L158.58,198.87 L159.97,200.19 L161.36,201.49 L162.75,202.78 L164.13,204.06 L165.52,205.33 L166.91,206.59 L168.30,207.83 L169.68,209.06 L171.07,210.28 L172.46,211.49 L173.85,212.68 L175.23,213.87 L176.62,215.04 L178.01,216.21 L179.40,217.36 L180.78,218.50 L182.17,219.63 L183.56,220.75 L184.95,221.86 L186.33,222.96 L187.72,224.05 L189.11,225.13 L190.50,226.20 L191.88,227.26 L193.27,228.32 L194.66,229.36 L196.05,230.40 L197.43,231.42 L198.82,232.44 L200.21,233.45 L201.59,234.45 L202.98,235.44 L204.37,236.42 L205.76,237.40 L207.14,238.36 L208.53,239.32 L209.92,240.27 L211.31,241.22 L212.69,242.15 L214.08,243.08 L215.47,244.00 L216.86,244.92 L218.24,245.82 L219.63,246.72 L221.02,247.62 L222.41,248.50 L223.79,249.38 L225.18,250.26 L226.57,251.12 L227.96,251.98 L229.34,252.84 L230.73,253.69 L232.12,254.53 L233.51,255.36 L234.89,256.19 L236.28,257.02 L237.67,257.84 L239.06,258.65 L240.44,259.45 L241.83,260.26 L243.22,261.05 L244.61,261.84 L245.99,262.63 L247.38,263.41 L248.77,264.18 L250.16,264.95 L251.54,265.72 L252.93,266.48 L254.32,267.23 L255.71,267.98 L257.09,268.73 L258.48,269.47 L259.87,270.21 L261.26,270.94 L262.64,271.66 L264.03,272.39 L265.42,273.11 L266.81,273.82 L268.19,274.53 L269.58,275.24 L270.97,275.94 L272.35,276.64 L273.74,277.33 L275.13,278.02 L276.52,278.71 L277.90,279.39 L279.29,280.07 L280.68,280.75 L282.07,281.42 L283.45,282.09 L284.84,282.75 L286.23,283.42 L287.62,284.07 L289.00,284.73 L290.39,285.38 L291.78,286.03 L293.17,286.67 L294.55,287.32 L295.94,287.95 L297.33,288.59 L298.72,289.22 L300.10,289.85 L301.49,290.48 L302.88,291.11 L304.27,291.73 L305.65,292.35 L307.04,292.96 L308.43,293.57 L309.82,294.19 L311.20,294.79 L312.59,295.40 L313.98,296.00 L315.37,296.60 L316.75,297.20 L318.14,297.80 L319.53,298.39 L320.92,298.98 L322.30,299.57 L323.69,300.16 L325.08,300.74 L326.47,301.32 L327.85,301.90 L329.24,302.48 L330.63,303.06 L332.02,303.63 L333.40,304.20 L334.79,304.77 L336.18,305.34 L337.56,305.91 L338.95,306.47 L340.34,307.03 L341.73,307.59 L343.11,308.15 L344.50,308.71 L345.89,309.27 L347.28,309.82 L348.66,310.37 L350.05,310.92 L351.44,311.47 L352.83,312.02 L354.21,312.56 L355.60,313.11 L356.99,313.65 L358.38,314.19 L359.76,314.73 L361.15,315.27 L362.54,315.81 L363.93,316.34 L365.31,316.88 L366.70,317.41 L368.09,317.94 L369.48,318.47 L370.86,319.00 L372.25,319.53 L373.64,320.06 L375.03,320.59 L376.41,321.11 L377.80,321.63 L379.19,322.16 L380.58,322.68 L381.96,323.20 L383.35,323.72 L384.74,324.24 L386.13,324.75 L387.51,325.27 L388.90,325.79 L390.29,326.30 L391.68,326.82 L393.06,327.33 L394.45,327.84 L395.84,328.35 L397.23,328.86 L398.61,329.37 L400.00,329.88" stroke="#ff0000" stroke-width="1.6"/>
</g>
<rect x="228.4" y="30" width="165.2" height="140" fill="#fff" stroke="#cfcfcf" stroke-width="0.8"/>
<path d="M237.1,41.8 H275" stroke="#8b5a2b" stroke-width="1.9" stroke-dasharray="3.7 4.5" fill="none"/>
<path d="M237.1,61.0 H276" stroke="#000" stroke-width="1.9" stroke-dasharray="3.4 4.7 8.8 4.7" fill="none"/>
<path d="M237.1,80.8 H277.4" stroke="#0000ff" stroke-width="1.9" stroke-dasharray="11.7 3.2" fill="none"/>
<path d="M237.1,100.5 H273" stroke="#a00018" stroke-width="2.6" stroke-dasharray="5.8 9.0" fill="none"/>
<path d="M237.1,119.9 H277.4" stroke="#ff0000" stroke-width="1.7" fill="none"/>
<rect x="237.1" y="136.2" width="45.0" height="6.8" fill="#ffb000"/>
<rect x="255.9" y="157.6" width="3.5" height="3.5" fill="#00a400"/>
<g font-size="14.6" fill="#000">
<text x="292.9" y="42.2" font-size="10.2">3</text><text x="298.6" y="47.6" font-style="italic">S</text><text x="306.0" y="51.3" font-size="10.2">1</text><text x="306.0" y="40.2" font-size="10.2">[1]</text>
<text x="324.2" y="47.6" textLength="52.4" lengthAdjust="spacing">Tevatron</text>
<text x="292.8" y="66.1" font-style="italic">M</text><text x="305.6" y="69.3" font-size="10.2">1</text><text x="315.1" y="66.1" textLength="52.4" lengthAdjust="spacing">Tevatron</text>
<text x="292.8" y="85.7" font-style="italic">M</text><text x="305.6" y="88.9" font-size="10.2">0</text><text x="315.1" y="85.7" textLength="52.4" lengthAdjust="spacing">Tevatron</text>
<text x="292.7" y="104.6" textLength="66.6" lengthAdjust="spacing">feed−down</text>
<text x="292.7" y="124.9" textLength="86.8" lengthAdjust="spacing">Total Tevatron</text>
<text x="292.7" y="144.0" textLength="63.9" lengthAdjust="spacing">Total LHC</text>
<text x="292.7" y="163.4" textLength="59.9" lengthAdjust="spacing">CDF Data</text>
</g>
<g font-size="14" fill="#000">
<text x="93.64" y="371" text-anchor="middle">5</text>
<text x="154.49" y="371" text-anchor="middle">10</text>
<text x="215.34" y="371" text-anchor="middle">15</text>
<text x="276.20" y="371" text-anchor="middle">20</text>
<text x="337.05" y="371" text-anchor="middle">25</text>
<text x="397.90" y="371" text-anchor="middle">30</text>
<text x="63.6" y="359.86" text-anchor="end"><tspan letter-spacing="0.8">1</tspan>0<tspan font-size="10.5" dy="-7.8">−4</tspan></text>
<text x="63.6" y="314.88" text-anchor="end"><tspan letter-spacing="0.8">1</tspan>0<tspan font-size="10.5" dy="-7.8">−3</tspan></text>
<text x="63.6" y="269.90" text-anchor="end"><tspan letter-spacing="0.8">1</tspan>0<tspan font-size="10.5" dy="-7.8">−2</tspan></text>
<text x="63.6" y="224.92" text-anchor="end"><tspan letter-spacing="0.8">1</tspan>0<tspan font-size="10.5" dy="-7.8">−1</tspan></text>
<text x="63.6" y="177.54" text-anchor="end">1</text>
<text x="63.6" y="132.56" text-anchor="end">10</text>
<text x="63.6" y="89.98" text-anchor="end"><tspan letter-spacing="0.8">1</tspan>0<tspan font-size="10.5" dy="-7.8">2</tspan></text>
<text x="63.6" y="45.00" text-anchor="end"><tspan letter-spacing="0.8">1</tspan>0<tspan font-size="10.5" dy="-7.8">3</tspan></text>
</g>
<text x="206.6" y="397.6" font-size="14.4" font-style="italic">p</text><text x="213.6" y="400.6" font-size="10.5" font-style="italic">T</text><text x="224.7" y="397.6" font-size="14.4">(GeV)</text>
<g transform="translate(21.0,289.3) rotate(-90)" font-size="14.4" fill="#000">
<text x="0.0" y="0">d</text>
<text x="7.0" y="0" font-style="italic" font-size="15.5" textLength="9.8" lengthAdjust="spacingAndGlyphs">σ</text>
<text x="15.7" y="1.2" font-size="17.5">/</text>
<text x="20.6" y="0">dp</text>
<text x="35.1" y="3.2" font-size="11.5" font-style="italic">T</text>
<text x="43.2" y="0.8" font-size="18">×</text>
<text x="54.3" y="0">Br(J</text>
<text x="79.1" y="1.2" font-size="17.5">/</text>
<text x="84.3" y="0" font-style="italic">ψ</text>
<text x="90.9" y="0" font-size="16.4">→</text>
<g transform="translate(105.7,0) skewX(-14)"><text x="0" y="0" font-size="16.5">μ</text></g>
<text x="114.0" y="-6.2" font-size="10">+</text>
<g transform="translate(119.6,0) skewX(-14)"><text x="0" y="0" font-size="16.5">μ</text></g>
<text x="128.0" y="-6.2" font-size="10">−</text>
<text x="134.2" y="0.5" font-size="16">)</text>
<text x="144.4" y="0">(nb/GeV)</text>
</g>
</svg>
</body></html>
